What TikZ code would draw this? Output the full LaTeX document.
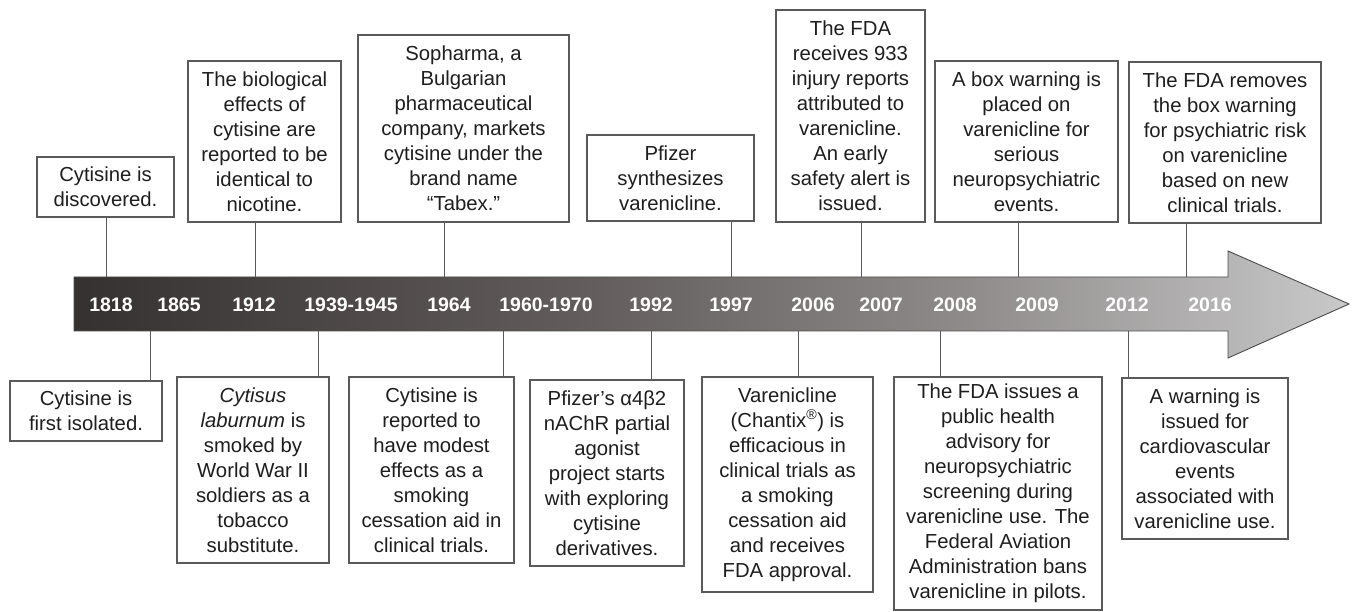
\documentclass[tikz,border=0pt]{standalone}
\usepackage{fontspec}
\setmainfont{Liberation Sans}
\definecolor{boxline}{HTML}{5A5A5A}
\definecolor{txt}{HTML}{1E1E1E}
\definecolor{barA}{HTML}{363131}
\definecolor{barB}{HTML}{625C5C}
\definecolor{barC}{HTML}{8F8B8B}
\definecolor{barD}{HTML}{C9C9C9}
\pgfdeclarehorizontalshading{barshade}{100bp}{color(0bp)=(barA); color(25bp)=(barA); color(45bp)=(barB); color(60bp)=(barC); color(75bp)=(barD); color(100bp)=(barD)}
\tikzset{
  evbox/.style={draw=boxline, line width=1.1pt, fill=white, inner sep=0pt, align=center, text=txt, font=\fontsize{20.3}{25}\selectfont},
  yearlbl/.style={text=white, font=\fontsize{19.5}{22}\selectfont\bfseries, inner sep=0pt},
  link/.style={draw=boxline, line width=1pt}
}
\begin{document}
\begin{tikzpicture}[x=1pt, y=-1pt]
\useasboundingbox[fill=white] (0,0) rectangle (1358,612);
% arrow
\shade[shading=barshade, draw=gray!60!black, line width=0.9pt]
  (74,277) -- (1228,277) -- (1228,251) -- (1349,304) -- (1228,358) -- (1228,331) -- (74,331) -- cycle;
% years
\foreach \yr/\xx in {1818/111, 1865/179, 1912/254, 1939-1945/351, 1964/449, 1960-1970/546, 1992/651, 1997/731, 2006/813, 2007/881, 2008/955, 2009/1037, 2012/1127, 2016/1210}
  \node[yearlbl] (y\yr) at (\xx,305) {\yr};
% bar anchor coordinates
\coordinate (t1818) at (106,277);
\coordinate (t1912) at (255,277);
\coordinate (t1964) at (444,277);
\coordinate (t1997) at (731,277);
\coordinate (t2007) at (861,277);
\coordinate (t2009) at (1018,277);
\coordinate (t2016) at (1186,277);
\coordinate (b1865) at (150,331);
\coordinate (b1939) at (318,331);
\coordinate (b1960) at (503,331);
\coordinate (b1992) at (651,331);
\coordinate (b2006) at (798,331);
\coordinate (b2008) at (940,331);
\coordinate (b2012) at (1128,331);
% top boxes
\node[evbox, minimum width=137pt, minimum height=60pt] (e1) at (105.5,187) {Cytisine is\\discovered.};
\node[evbox, minimum width=153pt, minimum height=161pt] (e2) at (264.5,141.5) {The biological\\effects of\\cytisine are\\reported to be\\identical to\\nicotine.};
\node[evbox, minimum width=211pt, minimum height=187pt] (e3) at (463.5,128.5) {Sopharma, a\\Bulgarian\\pharmaceutical\\company, markets\\cytisine under the\\brand name\\“Tabex.”};
\node[evbox, minimum width=167pt, minimum height=86pt] (e4) at (670.5,178) {Pfizer\\synthesizes\\varenicline.};
\node[evbox, minimum width=149pt, minimum height=212pt] (e5) at (850.5,116) {The FDA\\receives 933\\injury reports\\attributed to\\varenicline.\\An early\\safety alert is\\issued.};
\node[evbox, minimum width=183pt, minimum height=161pt] (e6) at (1026.5,141.5) {A box warning is\\placed on\\varenicline for\\serious\\neuropsychiatric\\events.};
\node[evbox, minimum width=192pt, minimum height=161pt] (e7) at (1225,142.5) {The FDA removes\\the box warning\\for psychiatric risk\\on varenicline\\based on new\\clinical trials.};
% bottom boxes
\node[evbox, minimum width=152pt, minimum height=60pt] (f1) at (86,411) {Cytisine is\\first isolated.};
\node[evbox, minimum width=152pt, minimum height=186pt] (f2) at (253,470) {\textit{Cytisus}\\\textit{laburnum} is\\smoked by\\World War II\\soldiers as a\\tobacco\\substitute.};
\node[evbox, minimum width=165pt, minimum height=186pt] (f3) at (431.5,470) {Cytisine is\\reported to\\have modest\\effects as a\\smoking\\cessation aid in\\clinical trials.};
\node[evbox, minimum width=154pt, minimum height=186pt] (f4) at (607,473) {Pfizer’s α4β2\\nAChR partial\\agonist\\project starts\\with exploring\\cytisine\\derivatives.};
\node[evbox, minimum width=171pt, minimum height=215pt] (f5) at (787.5,484.5) {Varenicline\\(Chantix\textsuperscript{®}) is\\efficacious in\\clinical trials as\\a smoking\\cessation aid\\and receives\\FDA approval.};
\node[evbox, minimum width=208pt, minimum height=233pt] (f6) at (998,493.5) {The FDA issues a\\public health\\advisory for\\neuropsychiatric\\screening during\\varenicline use. The\\Federal Aviation\\Administration bans\\varenicline in pilots.};
\node[evbox, minimum width=166pt, minimum height=161pt] (f7) at (1205,458.5) {A warning is\\issued for\\cardiovascular\\events\\associated with\\varenicline use.};
% connectors
\draw[link] (e1.south -| t1818) -- (t1818);
\draw[link] (e2.south -| t1912) -- (t1912);
\draw[link] (e3.south -| t1964) -- (t1964);
\draw[link] (e4.south -| t1997) -- (t1997);
\draw[link] (e5.south -| t2007) -- (t2007);
\draw[link] (e6.south -| t2009) -- (t2009);
\draw[link] (e7.south -| t2016) -- (t2016);
\draw[link] (f1.north -| b1865) -- (b1865);
\draw[link] (f2.north -| b1939) -- (b1939);
\draw[link] (f3.north -| b1960) -- (b1960);
\draw[link] (f4.north -| b1992) -- (b1992);
\draw[link] (f5.north -| b2006) -- (b2006);
\draw[link] (f6.north -| b2008) -- (b2008);
\draw[link] (f7.north -| b2012) -- (b2012);
\end{tikzpicture}
\end{document}
